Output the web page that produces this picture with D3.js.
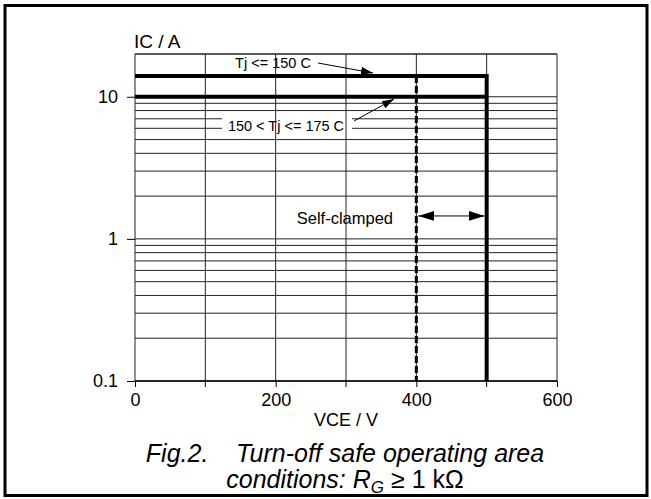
<!DOCTYPE html>
<html>
<head>
<meta charset="utf-8">
<script src="https://cdn.jsdelivr.net/npm/d3@7"></script>
<style>
  body { margin: 0; background: #fff; }
  text { font-family: "Liberation Sans", Arial, sans-serif; fill: #000; }
</style>
</head>
<body>
<div id="chart"></div>
<script>
const WIDTH = 651;
const HEIGHT = 499;

// axis ticks
const vceTicks = [0, 200, 400, 600];
const icTicks = [0.1, 1, 10];
const vceGrid = [0, 100, 200, 300, 400, 500, 600];

// SOA limit lines (VCE in V, IC in A)
const soa150 = [[0, 14], [500, 14], [500, 0.1]];
const soa175 = [[0, 10], [500, 10]];
const clampLine = [[400, 14], [400, 0.1]];
const clampArrow = [[400, 1.45], [500, 1.45]];

const svg = d3.select("#chart")
    .append("svg")
    .attr("width", WIDTH)
    .attr("height", HEIGHT)

// outer frame
svg.append("rect")
    .attr("x", 5).attr("y", 5.5)
    .attr("width", 642).attr("height", 490)
    .attr("fill", "none")
    .attr("stroke", "#000")
    .attr("stroke-width", 3)

const x = d3.scaleLinear().domain([0, 600]).range([135, 557]);
const y = d3.scaleLog().domain([0.1, 20]).range([381, 54]);

// horizontal grid: every log minor value
const icGrid = [];
[0.1, 1, 10].forEach(dec => {
    for (let k = 1; k <= 9; k++) {
        const v = +(dec * k).toPrecision(3);
        if (v <= 20) icGrid.push(v);
    }
});
icGrid.push(20);

const grid = svg.append("g");
grid.selectAll(".hgrid")
    .data(icGrid)
    .join("line")
    .attr("class", "hgrid")
    .attr("x1", x(0)).attr("x2", x(600))
    .attr("y1", d => y(d)).attr("y2", d => y(d))
    .style("stroke", "#222")
    .style("stroke-width", 1)

// white box behind the lower label hides the horizontal grid
svg.append("rect")
    .attr("x", 222).attr("y", 116).attr("width", 130).attr("height", 18)
    .attr("fill", "#fff")

svg.append("g").selectAll(".vgrid")
    .data(vceGrid)
    .join("line")
    .attr("class", "vgrid")
    .attr("x1", d => x(d)).attr("x2", d => x(d))
    .attr("y1", y(20)).attr("y2", y(0.1))
    .style("stroke", "#222")
    .style("stroke-width", 1)

// axes
const xAxis = d3.axisBottom(x).tickValues(vceTicks).tickSize(6).tickPadding(6);
svg.append("g")
    .attr("transform", `translate(0,${y(0.1)})`)
    .call(xAxis)
    .call(g => g.select(".domain").remove())
    .call(g => g.selectAll("text").style("font-size", "18px").attr("font-family", null))
svg.append("g")
    .attr("transform", `translate(0,${y(0.1)})`)
    .selectAll("line")
    .data([100, 300, 500])
    .join("line")
    .attr("x1", d => x(d)).attr("x2", d => x(d))
    .attr("y1", 0).attr("y2", 6)
    .style("stroke", "#000")

const yAxis = d3.axisLeft(y).tickValues(icTicks).tickFormat(d => String(d)).tickSize(8).tickPadding(9);
svg.append("g")
    .attr("transform", `translate(${x(0)},0)`)
    .call(yAxis)
    .call(g => g.select(".domain").remove())
    .call(g => g.selectAll("text").style("font-size", "18px").attr("font-family", null))

svg.append("line")
    .attr("x1", x(0)).attr("x2", x(600))
    .attr("y1", y(0.1)).attr("y2", y(0.1))
    .style("stroke", "#000").style("stroke-width", 1.5)

// axis titles
svg.append("text")
    .attr("x", 134).attr("y", 48)
    .style("font-size", "19px")
    .text("IC / A")
svg.append("text")
    .attr("x", x(300)).attr("y", 426)
    .attr("text-anchor", "middle")
    .style("font-size", "18px")
    .text("VCE / V")

const line = d3.line().x(d => x(d[0])).y(d => y(d[1]));

svg.append("path")
    .attr("d", line(soa150))
    .attr("fill", "none").attr("stroke", "#000").attr("stroke-width", 4)
svg.append("path")
    .attr("d", line(soa175))
    .attr("fill", "none").attr("stroke", "#000").attr("stroke-width", 4)
svg.append("path")
    .attr("d", line(clampLine))
    .attr("fill", "none").attr("stroke", "#000").attr("stroke-width", 3)
    .attr("stroke-dasharray", "7,3")

// arrow markers
const defs = svg.append("defs");
defs.append("marker")
    .attr("id", "head")
    .attr("viewBox", "0 0 12 8")
    .attr("refX", 12).attr("refY", 4)
    .attr("markerWidth", 12).attr("markerHeight", 8)
    .attr("markerUnits", "userSpaceOnUse")
    .attr("orient", "auto-start-reverse")
    .append("path")
    .attr("d", "M0,0 L12,4 L0,8 Z")
    .attr("fill", "#000")
defs.append("marker")
    .attr("id", "big")
    .attr("viewBox", "0 0 16 10")
    .attr("refX", 16).attr("refY", 5)
    .attr("markerWidth", 16).attr("markerHeight", 10)
    .attr("markerUnits", "userSpaceOnUse")
    .attr("orient", "auto-start-reverse")
    .append("path")
    .attr("d", "M0,0 L16,5 L0,10 Z")
    .attr("fill", "#000")

svg.append("text")
    .attr("x", 273).attr("y", 68)
    .attr("text-anchor", "middle")
    .style("font-size", "14.5px")
    .text("Tj <= 150 C")
svg.append("line")
    .attr("x1", 318).attr("y1", 63)
    .attr("x2", 373).attr("y2", 73)
    .attr("stroke", "#000").attr("stroke-width", 1)
    .attr("marker-end", "url(#head)")

svg.append("text")
    .attr("x", 286).attr("y", 131)
    .attr("text-anchor", "middle")
    .style("font-size", "14.5px")
    .text("150 < Tj <= 175 C")
svg.append("line")
    .attr("x1", 354).attr("y1", 121)
    .attr("x2", 394).attr("y2", 99)
    .attr("stroke", "#000").attr("stroke-width", 1)
    .attr("marker-end", "url(#head)")

// self-clamped range
svg.append("text")
    .attr("x", 393).attr("y", 224)
    .attr("text-anchor", "end")
    .style("font-size", "16.5px")
    .text("Self-clamped")
svg.append("line")
    .attr("x1", x(clampArrow[0][0]) + 2).attr("y1", y(clampArrow[0][1]))
    .attr("x2", x(clampArrow[1][0]) - 2).attr("y2", y(clampArrow[1][1]))
    .attr("stroke", "#000").attr("stroke-width", 1)
    .attr("marker-start", "url(#big)")
    .attr("marker-end", "url(#big)")

// caption
const cap = svg.append("text")
    .attr("text-anchor", "middle")
    .style("font-size", "25px")
    .style("font-style", "italic")
    .style("white-space", "pre")
cap.append("tspan")
    .attr("x", 345).attr("y", 462)
    .text("Fig.2.    Turn-off safe operating area")
const l2 = cap.append("tspan")
    .attr("x", 345).attr("y", 488)
l2.append("tspan").text("conditions: R")
l2.append("tspan").attr("dy", 5).style("font-size", "17px").text("G")
l2.append("tspan").attr("dy", -5).style("font-style", "normal").text(" \u2265 1 k\u03A9")
</script>
</body>
</html>
